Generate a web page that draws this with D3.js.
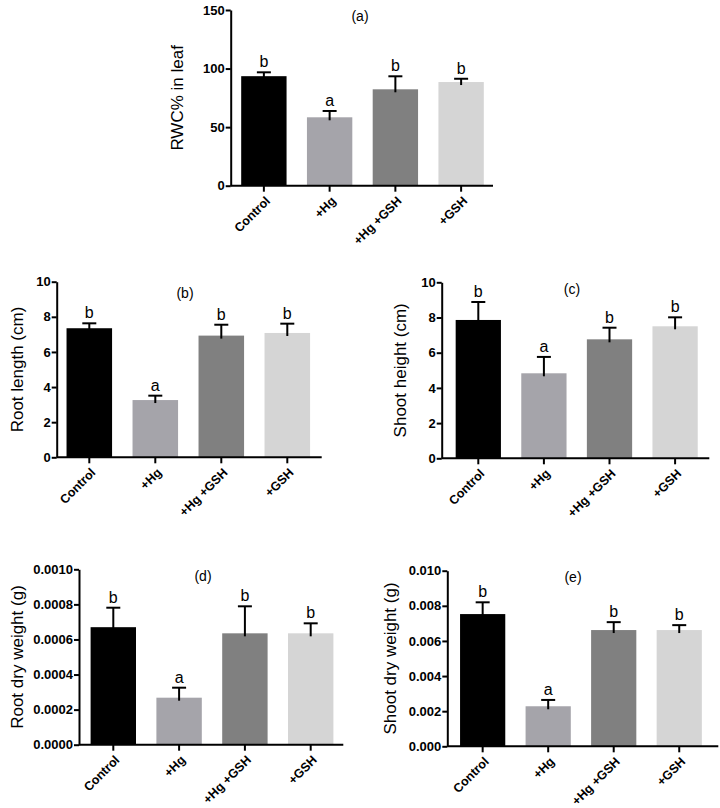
<!DOCTYPE html>
<html><head><meta charset="utf-8">
<script src="https://cdn.jsdelivr.net/npm/d3@7"></script>
<style>body{margin:0;background:#fff}svg{display:block}</style>
</head><body>
<script>
const categories = ["Control", "+Hg", "+Hg +GSH", "+GSH"];
const colors = ["#000000", "#a5a4aa", "#808080", "#d5d5d5"];

const rwcMean = [93.5, 58.4, 82.3, 88.5];
const rwcErr = [3.3, 5.4, 11.1, 2.8];
const rwcLetters = ["b", "a", "b", "b"];
const rwcTicks = [0, 50, 100, 150];

const rootLenMean = [7.35, 3.26, 6.93, 7.08];
const rootLenErr = [0.28, 0.25, 0.62, 0.53];
const rootLenLetters = ["b", "a", "b", "b"];
const rootLenTicks = [0, 2, 4, 6, 8, 10];

const shootHMean = [7.86, 4.83, 6.76, 7.5];
const shootHErr = [1.02, 0.93, 0.66, 0.51];
const shootHLetters = ["b", "a", "b", "b"];
const shootHTicks = [0, 2, 4, 6, 8, 10];

const rootDWMean = [0.00067, 0.000268, 0.000635, 0.000635];
const rootDWErr = [0.000111, 0.000057, 0.000154, 0.000057];
const rootDWLetters = ["b", "a", "b", "b"];
const rootDWTicks = [0, 0.0002, 0.0004, 0.0006, 0.0008, 0.0010];

const shootDWMean = [0.00753, 0.00228, 0.00662, 0.00662];
const shootDWErr = [0.00067, 0.00036, 0.00045, 0.00028];
const shootDWLetters = ["b", "a", "b", "b"];
const shootDWTicks = [0, 0.002, 0.004, 0.006, 0.008, 0.010];

const panels = [
  {title:"(a)", ylabel:"RWC% in leaf", mean:rwcMean, err:rwcErr, letters:rwcLetters, ticks:rwcTicks, max:150, fmt:d3.format("d"),
   ax0:230.7, ax1:493, b0:231, b1:494, top:10, bottom:185.7, tx:360, ty:21, lx:177},
  {title:"(b)", ylabel:"Root length (cm)", mean:rootLenMean, err:rootLenErr, letters:rootLenLetters, ticks:rootLenTicks, max:10, fmt:d3.format("d"),
   ax0:56.7, ax1:321.7, b0:56.3, b1:320.3, top:281.7, bottom:457.3, tx:185, ty:298, lx:17},
  {title:"(c)", ylabel:"Shoot height (cm)", mean:shootHMean, err:shootHErr, letters:shootHLetters, ticks:shootHTicks, max:10, fmt:d3.format("d"),
   ax0:441.7, ax1:709.3, b0:445.5, b1:707.9, top:282.3, bottom:458.3, tx:572, ty:294, lx:400},
  {title:"(d)", ylabel:"Root dry weight (g)", mean:rootDWMean, err:rootDWErr, letters:rootDWLetters, ticks:rootDWTicks, max:0.001, fmt:d3.format(".4f"),
   ax0:79, ax1:343.3, b0:80.4, b1:343.6, top:569.3, bottom:744.7, tx:203, ty:581, lx:17},
  {title:"(e)", ylabel:"Shoot dry weight (g)", mean:shootDWMean, err:shootDWErr, letters:shootDWLetters, ticks:shootDWTicks, max:0.01, fmt:d3.format(".3f"),
   ax0:447.3, ax1:718.3, b0:449.9, b1:712, top:570.7, bottom:746.3, tx:573, ty:582, lx:390}
];

const svg = d3.select("body").append("svg").attr("width",720).attr("height",808);
const FONT = "Arial, 'Liberation Sans', sans-serif";

panels.forEach(p => {
  const g = svg.append("g");
  const x = d3.scaleBand().domain(categories).range([p.b0, p.b1]).paddingInner(0.31).paddingOuter(0.155);
  const y = d3.scaleLinear().domain([0, p.max]).range([p.bottom, p.top]);

  g.selectAll("rect.bar").data(categories).join("rect")
    .attr("x", d => x(d)).attr("width", x.bandwidth())
    .attr("y", (d,i) => y(p.mean[i])).attr("height", (d,i) => y(0) - y(p.mean[i]))
    .attr("fill", (d,i) => colors[i]);

  const cap = 12;
  categories.forEach((c,i) => {
    const cx = x(c) + x.bandwidth()/2;
    const yt = y(p.mean[i] + p.err[i]);
    g.append("line").attr("x1",cx).attr("x2",cx).attr("y1",y(p.mean[i])+3).attr("y2",yt)
      .attr("stroke","#000").attr("stroke-width",2);
    g.append("line").attr("x1",cx-cap/2-1).attr("x2",cx+cap/2+1).attr("y1",yt).attr("y2",yt)
      .attr("stroke","#000").attr("stroke-width",2);
    g.append("text").attr("x",cx).attr("y",yt-5).attr("text-anchor","middle")
      .attr("font-family",FONT).attr("font-size",16).text(p.letters[i]);
  });

  const ya = g.append("g").attr("transform",`translate(${p.ax0},0)`)
    .call(d3.axisLeft(y).tickValues(p.ticks).tickFormat(p.fmt).tickSize(5).tickSizeOuter(0));
  ya.select(".domain").attr("stroke-width",2);
  ya.selectAll(".tick line").attr("stroke-width",2);
  ya.selectAll(".tick text").attr("font-family",FONT).attr("font-size",13).attr("font-weight","bold").attr("fill","#000").attr("x",-6);

  const xa = g.append("g").attr("transform",`translate(0,${p.bottom})`)
    .call(d3.axisBottom(x).tickSize(6).tickSizeOuter(0));
  xa.select(".domain").attr("d", `M${p.ax0},0H${p.ax1}`).attr("stroke-width",2);
  xa.selectAll(".tick line").attr("stroke-width",2);
  xa.selectAll(".tick text").attr("font-family",FONT).attr("font-size",12.5).attr("font-weight","bold").attr("fill","#000")
    .attr("text-anchor","end").attr("y",0).attr("dy",0)
    .attr("transform","translate(7,16) rotate(-45)");

  g.append("text").attr("x",p.tx).attr("y",p.ty).attr("text-anchor","middle")
    .attr("font-family",FONT).attr("font-size",14).text(p.title);

  g.append("text").attr("transform",`translate(${p.lx},${(p.top+p.bottom)/2}) rotate(-90)`)
    .attr("text-anchor","middle").attr("dy","0.35em")
    .attr("font-family",FONT).attr("font-size",17).text(p.ylabel);
});
</script>
</body></html>
